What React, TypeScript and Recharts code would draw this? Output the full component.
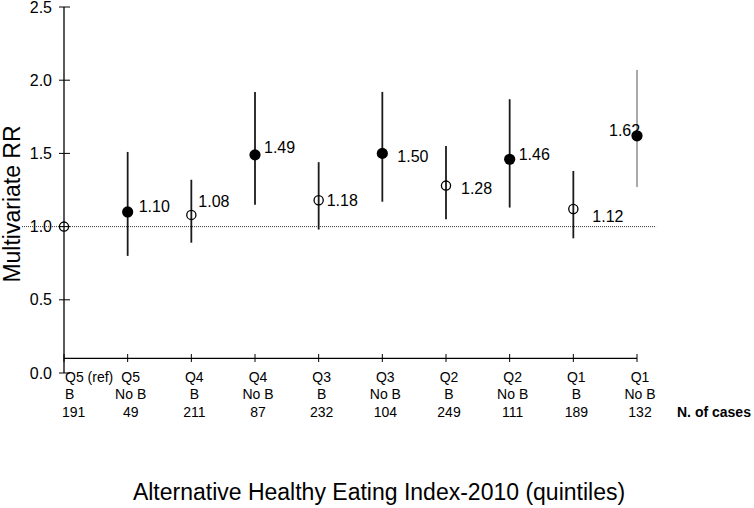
import React from 'react';
import { ComposedChart, Scatter, XAxis, YAxis, ErrorBar, ReferenceLine, Label } from 'recharts';

const quintiles = ['Q5 (ref)', 'Q5', 'Q4', 'Q4', 'Q3', 'Q3', 'Q2', 'Q2', 'Q1', 'Q1'];
const groups = ['B', 'No B', 'B', 'No B', 'B', 'No B', 'B', 'No B', 'B', 'No B'];
const cases = [191, 49, 211, 87, 232, 104, 249, 111, 189, 132];
const rr = [1.0, 1.1, 1.08, 1.49, 1.18, 1.5, 1.28, 1.46, 1.12, 1.62];
const ciLow = [1.0, 0.8, 0.89, 1.15, 0.98, 1.17, 1.05, 1.13, 0.92, 1.27];
const ciHigh = [1.0, 1.51, 1.32, 1.92, 1.44, 1.92, 1.55, 1.87, 1.38, 2.07];
const yTicks = [0, 0.5, 1.0, 1.5, 2.0, 2.5];
const xTicks = quintiles.map((_, i) => i);

const FONT = '"Liberation Sans", Arial, Helvetica, sans-serif';

// label offsets (dx, dy) relative to the marker, style only
const labelOffsets: (number[] | null)[] = [
  null, [11, 0], [7, -8], [9, -2], [8, 6], [15, 9], [15, 8], [9, 1], [19, 13], [-28, 0],
];
const thinIndex = 9;

const rows = rr.map((v, i) => ({
  idx: i,
  rr: v,
  err: [v - ciLow[i], ciHigh[i] - v],
  filled: groups[i] === 'No B',
}));
const openRows = rows.filter((r) => !r.filled);
const filledRows = rows.filter((r) => r.filled && r.idx !== thinIndex);
const thinRows = rows.filter((r) => r.idx === thinIndex);

const Marker = (props: any) => {
  const { cx, cy, payload } = props;
  const off = labelOffsets[payload.idx];
  return (
    <g>
      {payload.filled ? (
        <circle cx={cx} cy={cy} r={5.6} fill="#000" />
      ) : (
        <circle cx={cx} cy={cy} r={4.6} fill="none" stroke="#000" strokeWidth={1.3} />
      )}
      {off && (
        <text x={cx + off[0]} y={cy + off[1]} fontSize={16} fontFamily={FONT} fill="#000">
          {payload.rr.toFixed(2)}
        </text>
      )}
    </g>
  );
};

const XTick = (props: any) => {
  const { x, y, payload } = props;
  const i = payload.value as number;
  const first = i === 0;
  const tx = first ? x + 1 : x + 3;
  return (
    <g>
      <line x1={x} x2={x} y1={y - 19} y2={y - 11} stroke="#000" strokeWidth={1} />
      <text fontSize={14} fontFamily={FONT} fill="#000" textAnchor={first ? 'start' : 'middle'}>
        <tspan x={tx} y={y + 9}>{quintiles[i]}</tspan>
        <tspan x={tx} y={y + 26}>{groups[i]}</tspan>
        <tspan x={first ? x - 2 : tx} y={y + 44}>{cases[i]}</tspan>
      </text>
    </g>
  );
};

const YTick = (props: any) => {
  const { x, y, payload } = props;
  return (
    <g>
      <line x1={x - 5} x2={x + 6} y1={y} y2={y} stroke="#000" strokeWidth={1} />
      <text x={x - 12} y={y} dy={5.5} textAnchor="end" fontSize={16} fontFamily={FONT} fill="#000">
        {Number(payload.value).toFixed(1)}
      </text>
    </g>
  );
};

export default function App() {
  return (
    <div style={{ position: 'absolute', left: 0, top: 0, background: '#fff' }}>
      <ComposedChart width={754} height={508} margin={{ top: 7, right: 117, bottom: 0, left: 0 }}>
        <XAxis
          type="number"
          dataKey="idx"
          domain={[0, 9]}
          ticks={xTicks}
          interval={0}
          height={135}
          axisLine={false}
          tickLine={false}
          tickSize={0}
          tickMargin={0}
          tick={<XTick />}
        >
          <Label
            content={(p: any) => {
              const vb = p.viewBox || { x: 64, y: 373, width: 573 };
              return (
                <g>
                  <text x={vb.x + 315} y={vb.y + 127} textAnchor="middle" fontSize={23} fontFamily={FONT} fill="#000">
                    Alternative Healthy Eating Index-2010 (quintiles)
                  </text>
                  <text x={vb.x + vb.width + 40} y={vb.y + 44} fontSize={14} fontWeight="bold" fontFamily={FONT} fill="#000">
                    N. of cases
                  </text>
                </g>
              );
            }}
          />
        </XAxis>
        <YAxis
          type="number"
          dataKey="rr"
          domain={[0, 2.5]}
          ticks={yTicks}
          width={64}
          axisLine={{ stroke: '#000', strokeWidth: 1.3 }}
          tickLine={false}
          tickSize={0}
          tickMargin={0}
          tick={<YTick />}
          interval={0}
        >
          <Label
            content={(p: any) => {
              const vb = p.viewBox || { x: 0, y: 7 };
              const lx = vb.x + 20;
              const ly = vb.y + 197;
              return (
                <text x={lx} y={ly} transform={`rotate(-90, ${lx}, ${ly})`} textAnchor="middle" fontSize={23} fontFamily={FONT} fill="#000">
                  Multivariate RR
                </text>
              );
            }}
          />
        </YAxis>
        <ReferenceLine
          segment={[{ x: -0.66, y: 1 }, { x: 9.3, y: 1 }]}
          ifOverflow="visible"
          stroke="#333"
          strokeWidth={1}
          strokeDasharray="1 1"
        />
        <ReferenceLine
          segment={[{ x: 0, y: 0.1 }, { x: 9, y: 0.1 }]}
          ifOverflow="visible"
          stroke="#000"
          strokeWidth={1.3}
        />
        <Scatter data={openRows} dataKey="rr" shape={<Marker />} isAnimationActive={false}>
          <ErrorBar dataKey="err" direction="y" width={0} stroke="#1a1a1a" strokeWidth={1.8} isAnimationActive={false} />
        </Scatter>
        <Scatter data={filledRows} dataKey="rr" shape={<Marker />} isAnimationActive={false}>
          <ErrorBar dataKey="err" direction="y" width={0} stroke="#1a1a1a" strokeWidth={1.8} isAnimationActive={false} />
        </Scatter>
        <Scatter data={thinRows} dataKey="rr" shape={<Marker />} isAnimationActive={false}>
          <ErrorBar dataKey="err" direction="y" width={0} stroke="#555" strokeWidth={1} isAnimationActive={false} />
        </Scatter>
      </ComposedChart>
    </div>
  );
}
